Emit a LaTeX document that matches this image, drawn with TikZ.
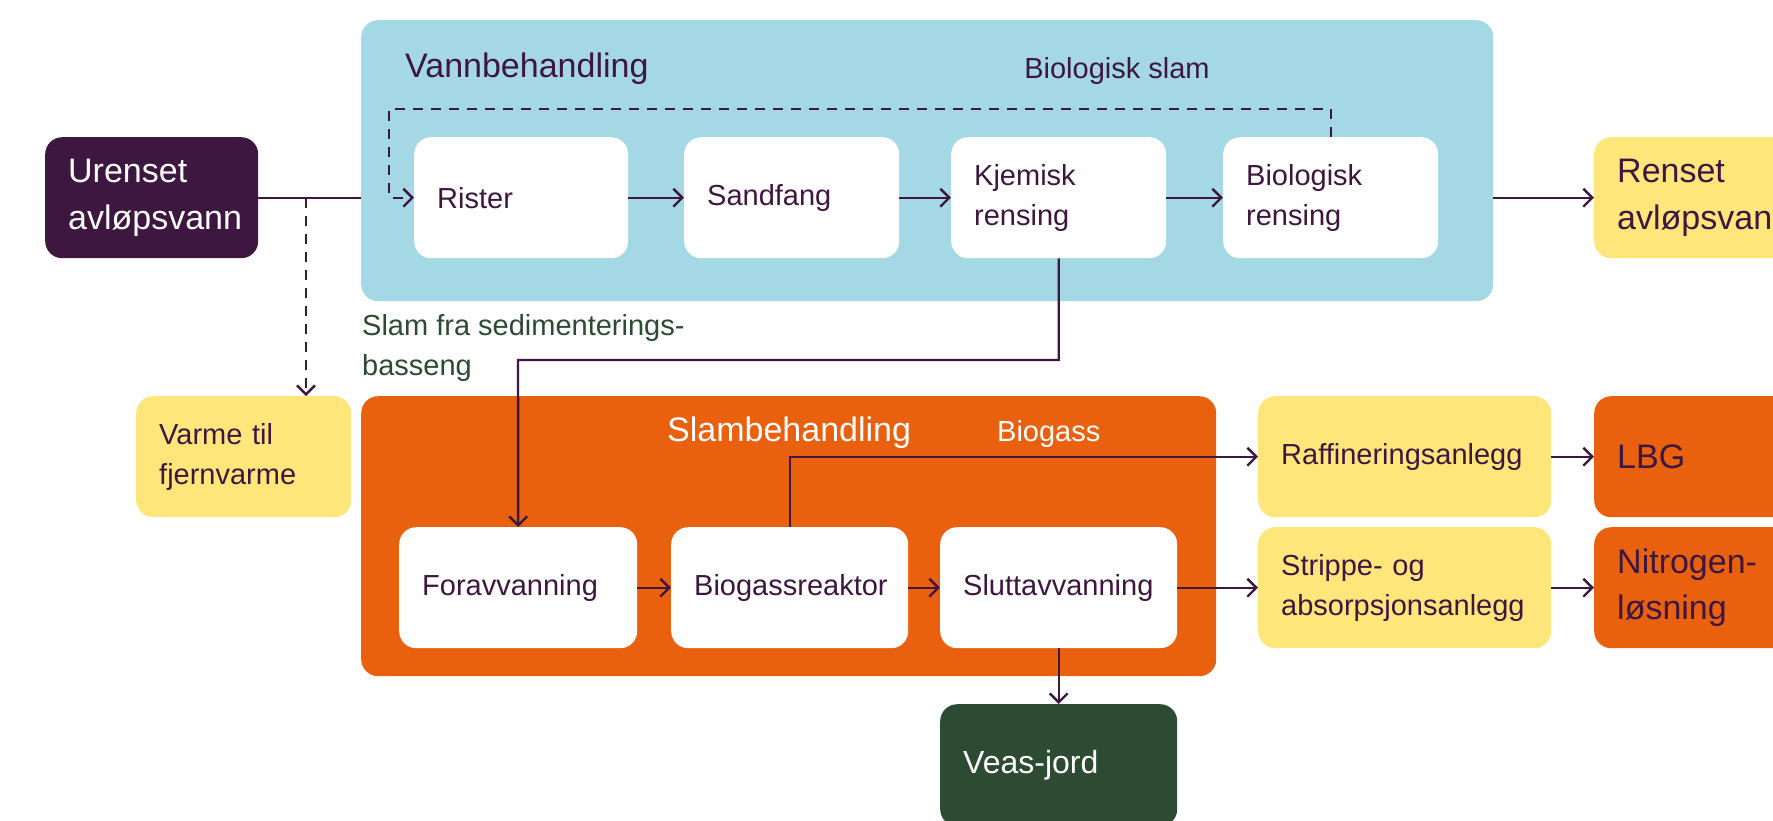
\documentclass[tikz,border=0pt]{standalone}
\usepackage{fontspec}
\setmainfont{Liberation Sans}
\usetikzlibrary{arrows.meta,calc}
\hyphenpenalty=10000
\exhyphenpenalty=10000
\definecolor{dpurple}{HTML}{3D173F}
\definecolor{lblue}{HTML}{A5D8E5}
\definecolor{orng}{HTML}{E9610F}
\definecolor{yel}{HTML}{FFE67B}
\definecolor{dgreen}{HTML}{2D4B32}
\newcommand{\bodyfnt}{\fontsize{29}{40}\selectfont}
\newcommand{\headfnt}{\fontsize{34}{47}\selectfont}
\tikzset{
  box/.style={rounded corners=17pt, inner xsep=23pt, inner ysep=0pt, minimum height=121pt,
    align=left, anchor=north west, font=\bodyfnt, text=dpurple},
  wbox/.style={box, fill=white},
  ybox/.style={box, fill=yel},
  hbox/.style={box, font=\headfnt},
  bgbox/.style={rounded corners=17pt, inner sep=0pt, anchor=north west},
  lbl/.style={inner sep=0pt, align=left},
  conn/.style={draw=dpurple, line width=2.4pt},
  arr/.style={-{Straight Barb[length=9pt,width=18pt,line width=2.4pt]}},
  dsh/.style={dash pattern=on 10pt off 8pt},
}
\begin{document}
\begin{tikzpicture}[x=1pt,y=-1pt]
\useasboundingbox (0,0) rectangle (1773,820);
\clip (0,0) rectangle (1773,820);
% backgrounds
\node[bgbox, fill=lblue, minimum width=1132pt, minimum height=281pt] (vann) at (361,20) {};
\node[bgbox, fill=orng, minimum width=855pt, minimum height=280pt] (slam) at (361,396) {};
% titles
\node[lbl, anchor=west, font=\headfnt, text=dpurple] (tv) at (405,69) {Vannbehandling};
\node[lbl, font=\bodyfnt, text=dpurple] (tbs) at (1117,71) {Biologisk slam};
\node[lbl, anchor=west, font=\headfnt, text=white] (ts) at (667,433) {Slambehandling};
\node[lbl, anchor=west, font=\bodyfnt, text=white] (tb) at (997,434) {Biogass};
\node[lbl, anchor=west, font=\bodyfnt, text=dgreen] (tsl) at (362,348) {Slam fra sedimenterings-\\basseng};
% boxes
\node[hbox, fill=dpurple, text=white, text width=167pt] (uren) at (45,137) {Urenset\\avløpsvann};
\node[wbox, text width=168pt] (rister) at (414,137) {Rister};
\node[wbox, text width=169pt] (sand) at (684,137) {Sandfang};
\node[wbox, text width=169pt] (kjem) at (951,137) {Kjemisk\\rensing};
\node[wbox, text width=169pt] (bio) at (1223,137) {Biologisk\\rensing};
\node[hbox, fill=yel, text width=200pt] (renset) at (1594,137) {Renset\\avløpsvann};
\node[ybox, text width=169pt] (varme) at (136,396) {Varme til\\fjernvarme};
\node[wbox, text width=192pt] (forav) at (399,527) {Foravvanning};
\node[wbox, text width=191pt] (biog) at (671,527) {Biogassreaktor};
\node[wbox, text width=191pt] (slutt) at (940,527) {Sluttavvanning};
\node[ybox, text width=247pt] (raff) at (1258,396) {Raffineringsanlegg};
\node[ybox, text width=247pt] (strip) at (1258,527) {Strippe- og\\absorpsjonsanlegg};
\node[hbox, fill=orng, text width=200pt] (lbg) at (1594,396) {LBG};
\node[hbox, fill=orng, text width=200pt] (nitro) at (1594,527) {Nitrogen-\\løsning};
\node[box, font=\fontsize{32}{44}\selectfont, fill=dgreen, text=white, text width=191pt, minimum height=122pt] (veas) at (940,704) {Veas-jord};
% connectors
\draw[conn] (uren.east) -- (uren.east -| vann.west);
\coordinate (j1) at (306,197.5);
\draw[conn, dsh, arr] (j1) -- (j1 |- varme.north);
\coordinate (d1) at (389,109);
\draw[conn, dsh, arr] (bio.north) |- (d1) |- (rister.west);
\draw[conn, arr] (rister.east) -- (sand.west);
\draw[conn, arr] (sand.east) -- (kjem.west);
\draw[conn, arr] (kjem.east) -- (bio.west);
\draw[conn, arr] (bio.east -| vann.east) -- (renset.west);
\coordinate (k2) at (518,360);
\draw[conn, arr] (kjem.south) |- (k2) -- (forav.north);
\draw[conn, arr] (forav.east) -- (biog.west);
\draw[conn, arr] (biog.east) -- (slutt.west);
\draw[conn, arr] (biog.north) |- (raff.west);
\draw[conn, arr] (raff.east) -- (lbg.west);
\draw[conn, arr] (slutt.east) -- (strip.west);
\draw[conn, arr] (strip.east) -- (nitro.west);
\draw[conn, arr] (slutt.south) -- (veas.north);
\end{tikzpicture}
\end{document}
